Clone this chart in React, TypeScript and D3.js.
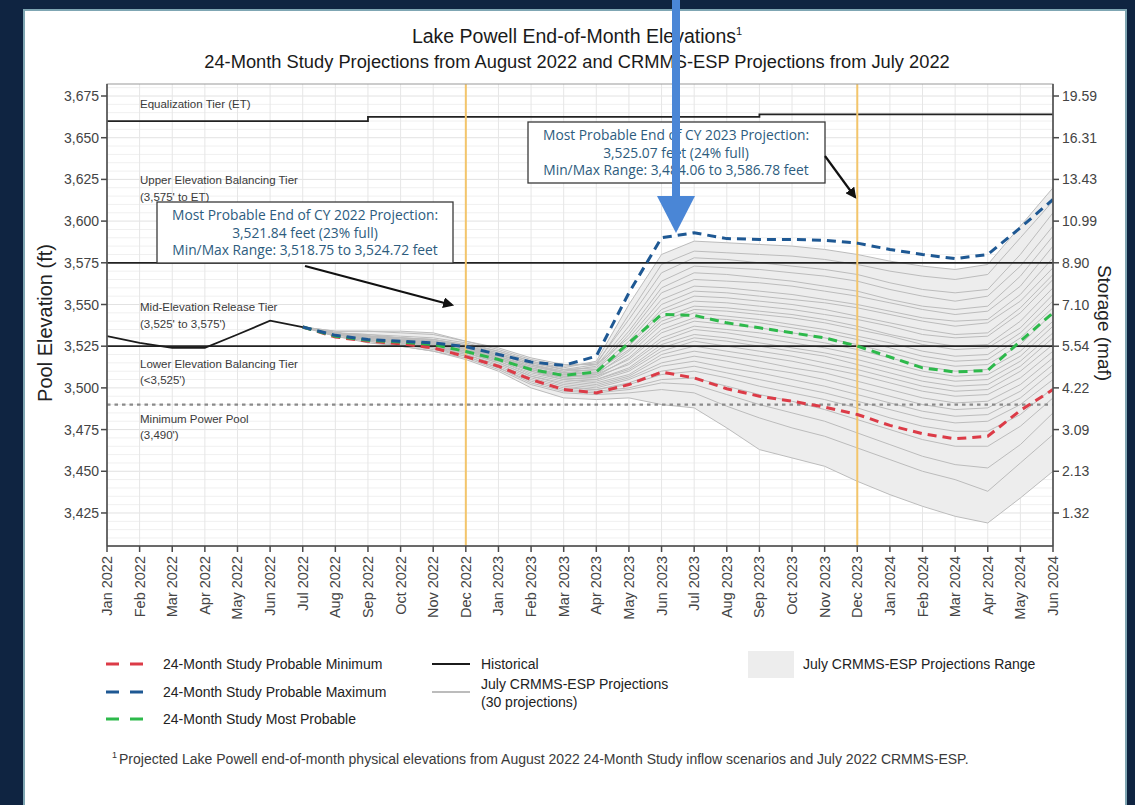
import React from "react";
import * as d3 from "d3";

// ---- data ----------------------------------------------------------------
const MONTHS = [
  "Jan 2022", "Feb 2022", "Mar 2022", "Apr 2022", "May 2022", "Jun 2022",
  "Jul 2022", "Aug 2022", "Sep 2022", "Oct 2022", "Nov 2022", "Dec 2022",
  "Jan 2023", "Feb 2023", "Mar 2023", "Apr 2023", "May 2023", "Jun 2023",
  "Jul 2023", "Aug 2023", "Sep 2023", "Oct 2023", "Nov 2023", "Dec 2023",
  "Jan 2024", "Feb 2024", "Mar 2024", "Apr 2024", "May 2024", "Jun 2024",
];

// Observed end-of-month elevations, Jan 2022 - Jul 2022
const HISTORICAL = [3531, 3527, 3524, 3524, 3532, 3540.3, 3536.5];

// Projections run Jul 2022 - Jun 2024 (index offset into MONTHS)
const PROJ_START = 6;

const PROBABLE_MIN = [
  3536.5, 3530.5, 3528, 3526.5, 3524, 3518.75, 3513, 3505, 3499, 3497, 3502, 3509.5,
  3506, 3499.5, 3495, 3492, 3488.5, 3484.06, 3477.5, 3472.5, 3469.5, 3471, 3486.5, 3499,
];
const PROBABLE_MAX = [
  3536.5, 3531.5, 3529, 3528, 3527, 3524.72, 3520, 3515.5, 3513.5, 3519, 3557, 3590,
  3593, 3589.5, 3589, 3589, 3588.5, 3586.78, 3583, 3580, 3577.5, 3580, 3596, 3613,
];
const MOST_PROBABLE = [
  3536.5, 3531, 3528.5, 3527.5, 3526, 3521.84, 3517, 3511, 3507.5, 3509.5, 3527, 3544,
  3543.5, 3539, 3536, 3533, 3530, 3525.07, 3518.5, 3512, 3509.5, 3510.5, 3528, 3545,
];

// July CRMMS-ESP traces (30 projections)
const ESP_TRACES = [
  [3536.5, 3533, 3531, 3530, 3529, 3526, 3522, 3516, 3512, 3516, 3550, 3580, 3588, 3587, 3586, 3585, 3583, 3580, 3576, 3573, 3571, 3574, 3597, 3620],
  [3536.5, 3533, 3531, 3529, 3528, 3525, 3521, 3515, 3511, 3514, 3544, 3574, 3582, 3581, 3580, 3579, 3577, 3574, 3570, 3567, 3565, 3568, 3590, 3612],
  [3536.5, 3534, 3534, 3533, 3532, 3528, 3523, 3517, 3513, 3515, 3541, 3569, 3578, 3577, 3575, 3573, 3571, 3568, 3563, 3559, 3557, 3559, 3580, 3605],
  [3536.5, 3532, 3530, 3528, 3527, 3524, 3520, 3514, 3510, 3513, 3537, 3564, 3573, 3572, 3571, 3569, 3567, 3564, 3559, 3555, 3552, 3555, 3573, 3597],
  [3536.5, 3533, 3531, 3530, 3529, 3526, 3521, 3515, 3511, 3512, 3534, 3560, 3569, 3568, 3566, 3564, 3561, 3558, 3553, 3549, 3547, 3549, 3567, 3591],
  [3536.5, 3532, 3530, 3528, 3527, 3523, 3519, 3513, 3509, 3511, 3532, 3557, 3565, 3564, 3563, 3561, 3558, 3555, 3551, 3547, 3544, 3546, 3561, 3585],
  [3536.5, 3534, 3534, 3534, 3533, 3528, 3524, 3518, 3514, 3514, 3530, 3553, 3561, 3560, 3558, 3556, 3553, 3550, 3546, 3542, 3540, 3541, 3556, 3578],
  [3536.5, 3532, 3530, 3529, 3528, 3524, 3520, 3514, 3510, 3511, 3528, 3550, 3558, 3557, 3555, 3553, 3551, 3548, 3544, 3540, 3537, 3539, 3552, 3572],
  [3536.5, 3533, 3531, 3530, 3528, 3525, 3520, 3514, 3509, 3509, 3526, 3547, 3555, 3554, 3552, 3550, 3547, 3543, 3539, 3535, 3532, 3533, 3548, 3568],
  [3536.5, 3532, 3530, 3529, 3527, 3523, 3518, 3512, 3508, 3509, 3525, 3545, 3552, 3551, 3549, 3547, 3544, 3541, 3537, 3532, 3530, 3531, 3545, 3565],
  [3536.5, 3533, 3532, 3531, 3530, 3527, 3522, 3516, 3511, 3510, 3523, 3542, 3549, 3548, 3546, 3544, 3541, 3537, 3532, 3528, 3525, 3526, 3540, 3560],
  [3536.5, 3532, 3529, 3527, 3526, 3522, 3517, 3511, 3507, 3508, 3522, 3540, 3547, 3546, 3544, 3542, 3539, 3535, 3531, 3526, 3523, 3524, 3536, 3556],
  [3536.5, 3533, 3531, 3529, 3528, 3524, 3519, 3513, 3509, 3509, 3520, 3538, 3545, 3543, 3541, 3538, 3535, 3531, 3527, 3522, 3519, 3520, 3533, 3552],
  [3536.5, 3532, 3530, 3528, 3526, 3522, 3517, 3511, 3507, 3507, 3518, 3535, 3542, 3541, 3539, 3536, 3533, 3529, 3524, 3519, 3516, 3517, 3530, 3548],
  [3536.5, 3533, 3532, 3530, 3529, 3525, 3520, 3514, 3509, 3508, 3517, 3533, 3540, 3538, 3536, 3533, 3530, 3526, 3521, 3516, 3513, 3514, 3526, 3545],
  [3536.5, 3532, 3530, 3528, 3527, 3523, 3518, 3512, 3507, 3506, 3515, 3530, 3537, 3535, 3533, 3530, 3527, 3523, 3518, 3513, 3510, 3511, 3522, 3540],
  [3536.5, 3533, 3531, 3529, 3527, 3524, 3519, 3512, 3508, 3507, 3514, 3528, 3535, 3533, 3530, 3527, 3524, 3520, 3515, 3510, 3507, 3508, 3519, 3537],
  [3536.5, 3532, 3530, 3528, 3526, 3522, 3517, 3510, 3506, 3505, 3512, 3526, 3532, 3530, 3527, 3524, 3521, 3517, 3512, 3507, 3504, 3505, 3516, 3533],
  [3536.5, 3533, 3531, 3529, 3528, 3524, 3518, 3511, 3506, 3505, 3511, 3524, 3530, 3528, 3525, 3522, 3519, 3514, 3509, 3504, 3501, 3502, 3513, 3530],
  [3536.5, 3532, 3529, 3527, 3525, 3521, 3516, 3509, 3505, 3504, 3510, 3522, 3528, 3525, 3522, 3519, 3515, 3511, 3506, 3501, 3498, 3499, 3510, 3526],
  [3536.5, 3533, 3531, 3529, 3527, 3523, 3517, 3510, 3505, 3503, 3508, 3520, 3525, 3522, 3519, 3516, 3512, 3508, 3503, 3498, 3495, 3496, 3506, 3522],
  [3536.5, 3532, 3530, 3528, 3526, 3522, 3516, 3508, 3504, 3502, 3507, 3518, 3522, 3519, 3516, 3512, 3509, 3504, 3499, 3494, 3491, 3492, 3502, 3518],
  [3536.5, 3532, 3529, 3527, 3525, 3521, 3515, 3507, 3503, 3501, 3506, 3515, 3519, 3516, 3512, 3509, 3505, 3500, 3495, 3490, 3487, 3488, 3498, 3514],
  [3536.5, 3533, 3530, 3528, 3526, 3521, 3515, 3507, 3502, 3500, 3505, 3513, 3516, 3512, 3509, 3505, 3501, 3496, 3491, 3486, 3483, 3484, 3494, 3510],
  [3536.5, 3532, 3529, 3527, 3524, 3520, 3514, 3506, 3501, 3499, 3503, 3510, 3513, 3509, 3505, 3501, 3497, 3492, 3487, 3482, 3479, 3480, 3490, 3505],
  [3536.5, 3532, 3530, 3527, 3525, 3520, 3513, 3505, 3500, 3499, 3502, 3508, 3510, 3506, 3501, 3497, 3493, 3488, 3482, 3477, 3474, 3474, 3484, 3500],
  [3536.5, 3531, 3528, 3526, 3523, 3519, 3512, 3504, 3499, 3498, 3500, 3505, 3506, 3501, 3496, 3492, 3487, 3481, 3475, 3469, 3465, 3465, 3477, 3494],
  [3536.5, 3532, 3529, 3526, 3524, 3519, 3512, 3503, 3498, 3497, 3499, 3503, 3502, 3496, 3490, 3485, 3480, 3473, 3466, 3459, 3454, 3452, 3466, 3485],
  [3536.5, 3531, 3528, 3525, 3522, 3518, 3511, 3502, 3497, 3496, 3497, 3499, 3497, 3489, 3482, 3476, 3471, 3464, 3457, 3450, 3445, 3438, 3455, 3472],
  [3536.5, 3531, 3527, 3525, 3522, 3517, 3510, 3500, 3494, 3493, 3494, 3490, 3488, 3476, 3463, 3458, 3453, 3444, 3436, 3429, 3423, 3419, 3434, 3450],
];

// Equalization tier elevation by month (steps each water year)
const EQUALIZATION_TIER = [
  3660, 3660, 3660, 3660, 3660, 3660, 3660, 3660,
  3662.5, 3662.5, 3662.5, 3662.5, 3662.5, 3662.5, 3662.5, 3662.5, 3662.5, 3662.5, 3662.5, 3662.5,
  3664, 3664, 3664, 3664, 3664, 3664, 3664, 3664, 3664, 3664,
];
const UPPER_TIER = 3575;
const MID_TIER = 3525;
const MIN_POWER_POOL = 3490;

const ELEV_TICKS = [3425, 3450, 3475, 3500, 3525, 3550, 3575, 3600, 3625, 3650, 3675];
const STORAGE_LABELS = ["1.32", "2.13", "3.09", "4.22", "5.54", "7.10", "8.90", "10.99", "13.43", "16.31", "19.59"];

// Dec 2022 and Dec 2023 marker months
const MARKER_MONTHS = [11, 23];

const TIER_LABELS = [
  { elev: 3668, lines: ["Equalization Tier (ET)"] },
  { elev: 3622, lines: ["Upper Elevation Balancing Tier", "(3,575' to ET)"] },
  { elev: 3546, lines: ["Mid-Elevation Release Tier", "(3,525' to 3,575')"] },
  { elev: 3512, lines: ["Lower Elevation Balancing Tier", "(<3,525')"] },
  { elev: 3479, lines: ["Minimum Power Pool", "(3,490')"] },
];

const NOTE_2022 = [
  "Most Probable End of CY 2022 Projection:",
  "3,521.84 feet (23% full)",
  "Min/Max Range: 3,518.75 to 3,524.72 feet",
];
const NOTE_2023 = [
  "Most Probable End of CY 2023 Projection:",
  "3,525.07 feet (24% full)",
  "Min/Max Range: 3,484.06 to 3,586.78 feet",
];

// ---- layout ---------------------------------------------------------------
const W = 1135;
const H = 805;
const M = { left: 107, right: 1053, top: 84, bottom: 546 };
const FONT = "'Liberation Sans', Arial, Helvetica, sans-serif";

const RED = "#dc3b47";
const BLUE = "#1e5893";
const GREEN = "#2db94b";
const GRAY_LINE = "#bcbcbc";
const RANGE_FILL = "#ededed";
const NOTE_TEXT = "#2d5c7e";

export default function App() {
  const x = d3.scaleLinear().domain([0, MONTHS.length - 1]).range([M.left, M.right]);
  const y = d3.scaleLinear().domain([3405.2, 3682.2]).range([M.bottom, M.top]);

  const projLine = d3
    .line<number>()
    .x((_, i) => x(i + PROJ_START))
    .y((d) => y(d));
  const histLine = d3
    .line<number>()
    .x((_, i) => x(i))
    .y((d) => y(d));
  const eqLine = d3
    .line<number>()
    .x((_, i) => x(i))
    .y((d) => y(d))
    .curve(d3.curveStepAfter);

  const rangeIdx = d3.range(ESP_TRACES[0].length);
  const rangeArea = d3
    .area<number>()
    .x((i) => x(i + PROJ_START))
    .y0((i) => y(d3.min(ESP_TRACES, (t) => t[i]) as number))
    .y1((i) => y(d3.max(ESP_TRACES, (t) => t[i]) as number));

  const minorGrid = d3.range(3410, 3682, 5);
  const axisColor = "#4a4a4a";

  const dashed = { strokeWidth: 3, strokeDasharray: "9 6", fill: "none" } as const;

  return (
    <svg
      width={W}
      height={H}
      viewBox={`0 0 ${W} ${H}`}
      style={{ position: "absolute", left: 0, top: 0, display: "block" }}
      fontFamily={FONT}
    >
      <defs>
        <marker id="arrowHead" viewBox="0 0 10 10" refX="8" refY="5" markerWidth="5" markerHeight="5" orient="auto">
          <path d="M0,0 L10,5 L0,10 z" fill="#111" />
        </marker>
        <clipPath id="plotClip">
          <rect x={M.left} y={M.top} width={M.right - M.left} height={M.bottom - M.top} />
        </clipPath>
      </defs>

      {/* page frame */}
      <rect x={0} y={0} width={W} height={H} fill="#0f2441" />
      <rect x={24} y={10} width={1102} height={H} fill="#ffffff" stroke="#7fa6b3" strokeWidth={2} />

      {/* titles */}
      <text x={577} y={43} textAnchor="middle" fontSize={19.5} fill="#1a1a1a">
        Lake Powell End-of-Month  Elevations
        <tspan dy={-8} fontSize={11}>1</tspan>
      </text>
      <text x={577} y={68} textAnchor="middle" fontSize={18.3} fill="#1a1a1a">
        24-Month Study Projections from August 2022 and CRMMS-ESP Projections from July 2022
      </text>

      {/* grid */}
      <g>
        {minorGrid.map((v) => (
          <line key={`hg${v}`} x1={M.left} x2={M.right} y1={y(v)} y2={y(v)} stroke={v % 25 === 0 ? "#e2e2e2" : "#f0f0f0"} strokeWidth={1} />
        ))}
        {MONTHS.map((m, i) => (
          <line key={`vg${m}`} x1={x(i)} x2={x(i)} y1={M.top} y2={M.bottom} stroke="#e6e6e6" strokeWidth={1} />
        ))}
      </g>

      <g clipPath="url(#plotClip)">
        {/* CRMMS-ESP range and traces */}
        <path d={rangeArea(rangeIdx) ?? ""} fill={RANGE_FILL} />
        {ESP_TRACES.map((t, k) => (
          <path key={`esp${k}`} d={projLine(t) ?? ""} fill="none" stroke={GRAY_LINE} strokeWidth={1} />
        ))}

        {/* operating tier boundaries */}
        <path d={eqLine(EQUALIZATION_TIER) ?? ""} fill="none" stroke="#222" strokeWidth={1.8} />
        <line x1={M.left} x2={M.right} y1={y(UPPER_TIER)} y2={y(UPPER_TIER)} stroke="#222" strokeWidth={1.8} />
        <line x1={M.left} x2={M.right} y1={y(MID_TIER)} y2={y(MID_TIER)} stroke="#222" strokeWidth={1.8} />
        <line x1={M.left} x2={M.right} y1={y(MIN_POWER_POOL)} y2={y(MIN_POWER_POOL)} stroke="#8a8a8a" strokeWidth={2.2} strokeDasharray="3.5 4" />

        {/* end-of-calendar-year markers */}
        {MARKER_MONTHS.map((i) => (
          <line key={`mk${i}`} x1={x(i)} x2={x(i)} y1={M.top} y2={M.bottom} stroke="#f3c56b" strokeWidth={2} />
        ))}

        {/* 24-Month Study projections */}
        <path d={projLine(PROBABLE_MIN) ?? ""} stroke={RED} {...dashed} />
        <path d={projLine(MOST_PROBABLE) ?? ""} stroke={GREEN} {...dashed} />
        <path d={projLine(PROBABLE_MAX) ?? ""} stroke={BLUE} {...dashed} />

        {/* historical */}
        <path d={histLine(HISTORICAL) ?? ""} fill="none" stroke="#1b1b1b" strokeWidth={1.8} />
      </g>

      {/* tier labels */}
      {TIER_LABELS.map((t) => (
        <text key={t.lines[0]} x={140} y={y(t.elev)} fontSize={11.5} fill="#3a3a3a">
          {t.lines.map((l, j) => (
            <tspan key={l} x={140} dy={j === 0 ? 0 : 16.5}>
              {l}
            </tspan>
          ))}
        </text>
      ))}

      {/* axes */}
      <rect x={M.left} y={M.top} width={M.right - M.left} height={M.bottom - M.top} fill="none" stroke="#9a9a9a" strokeWidth={1} />
      <line x1={M.left} x2={M.left} y1={M.top} y2={M.bottom} stroke={axisColor} strokeWidth={1.5} />
      <line x1={M.right} x2={M.right} y1={M.top} y2={M.bottom} stroke={axisColor} strokeWidth={1.5} />
      <line x1={M.left} x2={M.right} y1={M.bottom} y2={M.bottom} stroke={axisColor} strokeWidth={1.5} />
      {ELEV_TICKS.map((v, k) => (
        <g key={`t${v}`}>
          <line x1={M.left - 6} x2={M.left} y1={y(v)} y2={y(v)} stroke={axisColor} strokeWidth={1.5} />
          <text x={M.left - 8} y={y(v)} dy="0.36em" textAnchor="end" fontSize={14} fill="#444">
            {d3.format(",")(v)}
          </text>
          <line x1={M.right} x2={M.right + 6} y1={y(v)} y2={y(v)} stroke={axisColor} strokeWidth={1.5} />
          <text x={M.right + 9} y={y(v)} dy="0.36em" textAnchor="start" fontSize={14} fill="#444">
            {STORAGE_LABELS[k]}
          </text>
        </g>
      ))}
      {MONTHS.map((m, i) => (
        <g key={`xt${m}`}>
          <line x1={x(i)} x2={x(i)} y1={M.bottom} y2={M.bottom + 6} stroke={axisColor} strokeWidth={1.5} />
          <text transform={`translate(${x(i) + 5},${M.bottom + 10}) rotate(-90)`} textAnchor="end" fontSize={14.5} fill="#444">
            {m}
          </text>
        </g>
      ))}
      <text transform={`translate(52,${(M.top + M.bottom) / 2 + 8}) rotate(-90)`} textAnchor="middle" fontSize={20} fill="#222">
        Pool Elevation (ft)
      </text>
      <text transform={`translate(1098,${(M.top + M.bottom) / 2 + 8}) rotate(90)`} textAnchor="middle" fontSize={19} fill="#222">
        Storage (maf)
      </text>

      {/* callouts */}
      <g>
        <rect x={157} y={202} width={296} height={61} fill="#fff" stroke="#3a3a3a" strokeWidth={1.3} />
        {NOTE_2022.map((l, j) => (
          <text key={l} x={305} y={220 + j * 17.5} textAnchor="middle" fontSize={13.8} fill={NOTE_TEXT} fontFamily="'Open Sans', sans-serif">
            {l}
          </text>
        ))}
        <line x1={305} y1={266} x2={452} y2={305} stroke="#111" strokeWidth={2.2} markerEnd="url(#arrowHead)" />

        <rect x={528} y={122} width={297} height={61} fill="#fff" stroke="#3a3a3a" strokeWidth={1.3} />
        {NOTE_2023.map((l, j) => (
          <text key={l} x={676} y={140 + j * 17.5} textAnchor="middle" fontSize={13.8} fill={NOTE_TEXT} fontFamily="'Open Sans', sans-serif">
            {l}
          </text>
        ))}
        <line x1={825} y1={156} x2={855} y2={197} stroke="#111" strokeWidth={2.2} markerEnd="url(#arrowHead)" />
      </g>

      {/* legend */}
      <g fontSize={14} fill="#222">
        <line x1={106} x2={146} y1={664} y2={664} stroke={RED} strokeWidth={3} strokeDasharray="13 11" />
        <text x={163} y={669}>24-Month Study Probable Minimum</text>
        <line x1={106} x2={146} y1={692} y2={692} stroke={BLUE} strokeWidth={3} strokeDasharray="13 11" />
        <text x={163} y={697}>24-Month Study Probable Maximum</text>
        <line x1={106} x2={146} y1={719} y2={719} stroke={GREEN} strokeWidth={3} strokeDasharray="13 11" />
        <text x={163} y={724}>24-Month Study Most Probable</text>

        <line x1={432} x2={470} y1={664} y2={664} stroke="#1b1b1b" strokeWidth={2} />
        <text x={481} y={669}>Historical</text>
        <line x1={432} x2={470} y1={692} y2={692} stroke={GRAY_LINE} strokeWidth={2} />
        <text x={481} y={689}>July CRMMS-ESP Projections</text>
        <text x={481} y={707}>(30 projections)</text>

        <rect x={748} y={651} width={46} height={27} fill={RANGE_FILL} />
        <text x={803} y={669}>July CRMMS-ESP Projections Range</text>
      </g>

      {/* footnote */}
      <text x={112} y={758} fontSize={9} fill="#333">1</text>
      <text x={119} y={764} fontSize={14} fill="#3a3a3a">
        Projected Lake Powell end-of-month physical elevations from August 2022 24-Month Study inflow scenarios and July 2022 CRMMS-ESP.
      </text>

      {/* pointer arrow */}
      <rect x={672} y={0} width={8} height={198} fill="#4a86d6" />
      <polygon points="657,196 695,196 676,233" fill="#4a86d6" />
    </svg>
  );
}
